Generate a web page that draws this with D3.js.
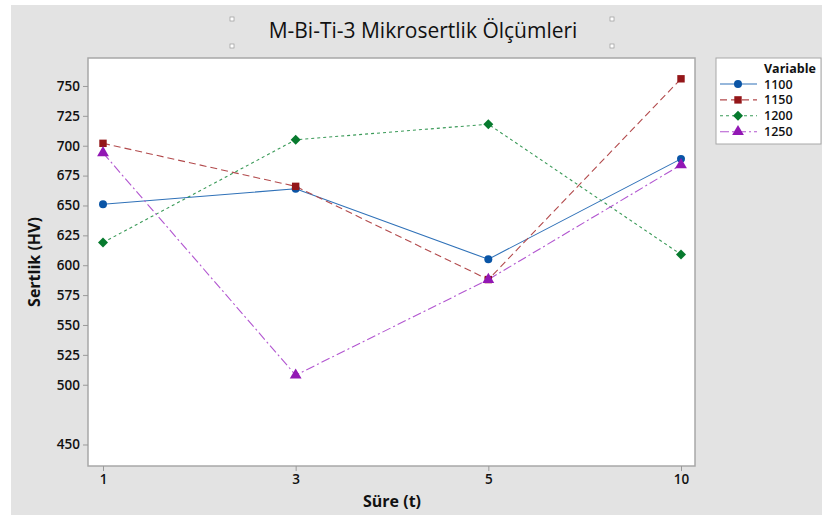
<!DOCTYPE html>
<html><head><meta charset="utf-8">
<script src="https://cdn.jsdelivr.net/npm/d3@7"></script>
<style>body{margin:0;background:#fff}svg{display:block}text{font-family:"Open Sans","Noto Sans",sans-serif;}</style>
</head><body>
<svg id="c" width="822" height="515"></svg>
<script>
const categories = ["1","3","5","10"];
const seriesNames = ["1100","1150","1200","1250"];
const v1100 = [651, 664, 605, 689];
const v1150 = [702, 666, 588, 756];
const v1200 = [619, 705, 718, 609];
const v1250 = [694, 508, 588, 684];
const yTicks = [450,500,525,550,575,600,625,650,675,700,725,750];
const title = "M-Bi-Ti-3 Mikrosertlik Ölçümleri";
const xTitle = "Süre (t)";
const yTitle = "Sertlik (HV)";

const styles = [
  {color:"#0A55A6", line:"#2F71B8", dash:null, sym:d3.symbolCircle, size:50, rot:0},
  {color:"#941619", line:"#B24A4C", dash:"7,4", sym:d3.symbolSquare, size:55, rot:0},
  {color:"#077A2E", line:"#3A9A58", dash:"3,3", sym:d3.symbolSquare, size:50, rot:45},
  {color:"#9217B4", line:"#B256D0", dash:"9,3,2,3", sym:d3.symbolTriangle, size:60, rot:0}
];
const series = [v1100, v1150, v1200, v1250];

const svg = d3.select("#c");
svg.append("rect").attr("x",11).attr("y",5).attr("width",811).attr("height",510).attr("fill","#E3E3E3");

const L=88, R=695, T=58, B=466;
svg.append("rect").attr("x",L).attr("y",T).attr("width",R-L).attr("height",B-T).attr("fill","#fff").attr("stroke","#A8A8A8").attr("stroke-width",1.5);

const x = d3.scalePoint().domain(categories).range([103,681]);
const y = d3.scaleLinear().domain([432, 773.4]).range([B, T]);

const yAxis = svg.append("g").attr("transform",`translate(${L},0)`)
  .call(d3.axisLeft(y).tickValues(yTicks).tickSize(5).tickPadding(3));
yAxis.select(".domain").remove();
yAxis.selectAll("line").attr("stroke","#9A9A9A");
yAxis.selectAll("text").attr("font-size",13.5).attr("fill","#111").attr("font-weight",600);

const xAxis = svg.append("g").attr("transform",`translate(0,${B})`)
  .call(d3.axisBottom(x).tickSize(5).tickPadding(3));
xAxis.select(".domain").remove();
xAxis.selectAll("line").attr("stroke","#9A9A9A");
xAxis.selectAll("text").attr("font-size",13.5).attr("fill","#111").attr("font-weight",600);

const line = d3.line().x((d,i)=>x(categories[i])).y(d=>y(d));
series.forEach((s,k)=>{
  const st = styles[k];
  svg.append("path").attr("d", line(s)).attr("fill","none").attr("stroke",st.line)
    .attr("stroke-width",1.1).attr("stroke-dasharray",st.dash);
});
series.forEach((s,k)=>{
  const st = styles[k];
  svg.append("g").selectAll("path").data(s).join("path")
    .attr("transform",(d,i)=>`translate(${x(categories[i])},${y(d)}) rotate(${st.rot})`)
    .attr("d", d3.symbol(st.sym, st.size)).attr("fill",st.color);
});

// title
svg.append("text").attr("x",423).attr("y",38).attr("text-anchor","middle")
  .attr("font-size",21).attr("font-weight",500).attr("fill","#111").text(title);
[[232,19],[612,19],[232,46],[612,46]].forEach(p=>{
  svg.append("rect").attr("x",p[0]-2).attr("y",p[1]-2).attr("width",4).attr("height",4)
   .attr("fill","#fff").attr("stroke","#999").attr("stroke-width",0.7);
});

svg.append("text").attr("x",392).attr("y",507).attr("text-anchor","middle")
  .attr("font-size",16).attr("font-weight",700).attr("fill","#111").text(xTitle);
svg.append("text").attr("transform","translate(40,262) rotate(-90)").attr("text-anchor","middle")
  .attr("font-size",16).attr("font-weight",700).attr("fill","#111").text(yTitle);

// legend
const lg = svg.append("g");
lg.append("rect").attr("x",716).attr("y",58).attr("width",105).attr("height",86)
  .attr("fill","#fff").attr("stroke","#A8A8A8").attr("stroke-width",1);
lg.append("text").attr("x",764).attr("y",73).attr("font-size",12.5).attr("font-weight",700).attr("fill","#111").text("Variable");
seriesNames.forEach((n,k)=>{
  const st = styles[k], yy = 84 + k*15.9;
  lg.append("line").attr("x1",720).attr("x2",757).attr("y1",yy).attr("y2",yy)
    .attr("stroke",st.line).attr("stroke-width",1.1).attr("stroke-dasharray",st.dash);
  lg.append("path").attr("transform",`translate(738,${yy}) rotate(${st.rot})`).attr("d",d3.symbol(st.sym,st.size)).attr("fill",st.color);
  lg.append("text").attr("x",764).attr("y",yy+4.5).attr("font-size",12.5).attr("font-weight",600).attr("fill","#111").text(n);
});
</script>
</body></html>
